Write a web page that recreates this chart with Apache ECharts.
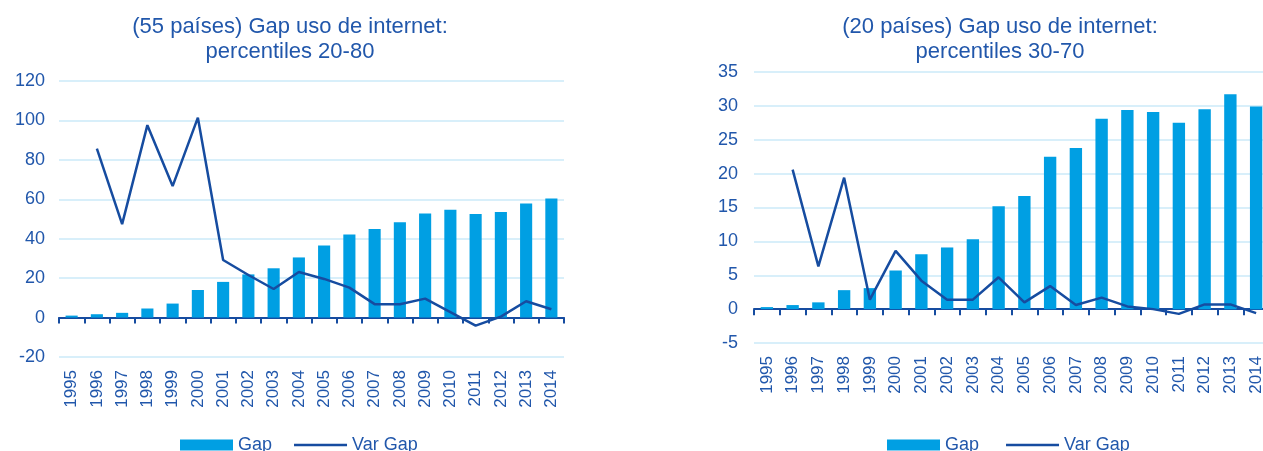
<!DOCTYPE html>
<html>
<head>
<meta charset="utf-8">
<script src="https://cdn.jsdelivr.net/npm/echarts@6/dist/echarts.min.js"></script>
<style>
html,body{margin:0;padding:0;background:#fff;}
#c{width:1263px;height:451px;}
</style>
</head>
<body>
<div id="c"></div>
<script>
var years = ['1995','1996','1997','1998','1999','2000','2001','2002','2003','2004','2005','2006','2007','2008','2009','2010','2011','2012','2013','2014'];
var titleLeft = '(55 países) Gap uso de internet:\npercentiles 20-80';
var titleRight = '(20 países) Gap uso de internet:\npercentiles 30-70';
var gapLeft = [1.0,1.7,2.4,4.6,7.1,14.0,18.1,21.9,25.0,30.5,36.6,42.2,44.9,48.3,52.8,54.7,52.5,53.5,57.9,60.4];
var varLeft = [null,85.7,47.4,97.6,66.7,101.4,29.2,21.6,14.5,23.1,19.6,15.2,6.8,6.8,9.6,2.8,-4.1,0.5,8.3,4.2];
var gapRight = [0.3,0.6,1.0,2.8,3.1,5.7,8.1,9.1,10.3,15.2,16.7,22.5,23.8,28.1,29.4,29.1,27.5,29.5,31.7,29.9];
var varRight = [null,20.6,6.3,19.4,1.4,8.6,4.2,1.4,1.4,4.7,1.0,3.4,0.6,1.7,0.4,0.0,-0.7,0.7,0.7,-0.6];
var yTicksLeft = {min:-20, max:120, interval:20};
var yTicksRight = {min:-5, max:35, interval:5};

var FONT = '"Liberation Sans", Arial, sans-serif';
var TXT = '#2157AB';
var BAR = '#009FE3';
var LINE = '#164CA0';
var GRIDC = '#CBEAF8';

function labelAxis(gi){
  return {type:'category', gridIndex:gi, data:years, position:'bottom', boundaryGap:true,
    axisLine:{show:false, onZero:false}, axisTick:{show:false},
    axisLabel:{rotate:90, fontSize:17, color:TXT, fontFamily:FONT, margin:13, interval:0}};
}
function zeroAxis(gi){
  return {type:'category', gridIndex:gi, data:years, position:'bottom', boundaryGap:true,
    axisLine:{show:true, onZero:true, lineStyle:{color:LINE, width:2}},
    axisTick:{show:true, length:6, lineStyle:{color:LINE, width:2}, interval:0},
    axisLabel:{show:false}};
}
function valAxis(gi, t, m){
  return {type:'value', gridIndex:gi, min:t.min, max:t.max, interval:t.interval,
    axisLine:{show:false}, axisTick:{show:false},
    splitLine:{show:true, lineStyle:{color:GRIDC, width:1.5}},
    axisLabel:{fontSize:18, color:TXT, fontFamily:FONT, margin:m}};
}
var lineIcon = 'path://M0,0H53V2.5H0Z';
function legendOpt(left, names){
  return {left:left, top:436, padding:0, itemWidth:53, itemHeight:11, itemGap:22,
    textStyle:{fontSize:18, color:TXT, fontFamily:FONT},
    data:[{name:names[0], icon:'rect'}, {name:names[1], icon:lineIcon, itemStyle:{color:LINE}}]};
}

var chart = echarts.init(document.getElementById('c'), null, {renderer:'canvas'});
chart.setOption({
  animation:false,
  backgroundColor:'#fff',
  title:[
    {text:titleLeft, left:290, top:14, textAlign:'center', padding:0,
     textStyle:{fontSize:22, fontWeight:'normal', color:TXT, fontFamily:FONT, lineHeight:25}},
    {text:titleRight, left:1000, top:14, textAlign:'center', padding:0,
     textStyle:{fontSize:22, fontWeight:'normal', color:TXT, fontFamily:FONT, lineHeight:25}}
  ],
  legend:[legendOpt(180, ['Gap','Var Gap']), legendOpt(887, ['Gap ','Var Gap '])],
  grid:[
    {left:59, top:81, width:505, height:276, outerBoundsMode:'none'},
    {left:754, top:72, width:515, height:271, outerBoundsMode:'none'}
  ],
  xAxis:[labelAxis(0), zeroAxis(0), labelAxis(1), zeroAxis(1)],
  yAxis:[valAxis(0, yTicksLeft, 14), valAxis(1, yTicksRight, 16)],
  series:[
    {name:'Gap', type:'bar', xAxisIndex:0, yAxisIndex:0, data:gapLeft, barWidth:'48%',
     itemStyle:{color:BAR}},
    {name:'Var Gap', type:'line', xAxisIndex:0, yAxisIndex:0, data:varLeft, symbol:'none',
     lineStyle:{color:LINE, width:2.5}, itemStyle:{color:LINE}},
    {name:'Gap ', type:'bar', xAxisIndex:2, yAxisIndex:1, data:gapRight, barWidth:'48%',
     itemStyle:{color:BAR}},
    {name:'Var Gap ', type:'line', xAxisIndex:2, yAxisIndex:1, data:varRight, symbol:'none',
     lineStyle:{color:LINE, width:2.5}, itemStyle:{color:LINE}}
  ]
});
</script>
</body>
</html>
